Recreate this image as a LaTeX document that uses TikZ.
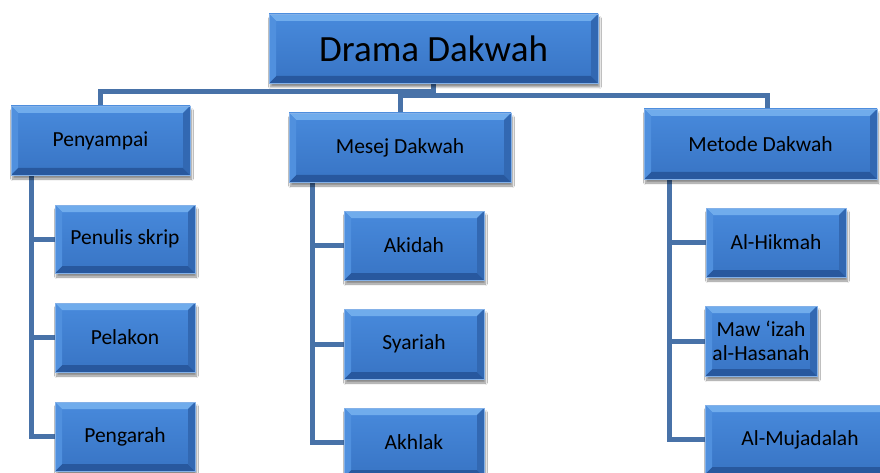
\documentclass[tikz,border=0pt]{standalone}
\usepackage{fontspec}
\setmainfont{Carlito}
\usetikzlibrary{shadows.blur,backgrounds}
\definecolor{faceT}{RGB}{72,138,220}
\definecolor{faceB}{RGB}{56,116,196}
\definecolor{bevT}{RGB}{112,172,236}
\definecolor{bevL}{RGB}{80,144,222}
\definecolor{bevR}{RGB}{50,104,178}
\definecolor{bevB}{RGB}{40,88,158}
\definecolor{linkc}{RGB}{72,114,168}
\tikzset{
  bev/.style={rectangle, inner sep=0pt, top color=faceT, bottom color=faceB,
    draw=bevL!70!white, line width=0.4pt, text=black, align=center,
    font=\fontsize{21.5}{23}\selectfont,
    blur shadow={shadow xshift=1.5pt, shadow yshift=-4pt, shadow blur steps=6, shadow opacity=45},
    path picture={
      \fill[bevT] (path picture bounding box.north west) -- (path picture bounding box.north east)
        -- ([xshift=-7pt,yshift=-7pt]path picture bounding box.north east)
        -- ([xshift=7pt,yshift=-7pt]path picture bounding box.north west) -- cycle;
      \fill[bevB] (path picture bounding box.south west) -- (path picture bounding box.south east)
        -- ([xshift=-7pt,yshift=7pt]path picture bounding box.south east)
        -- ([xshift=7pt,yshift=7pt]path picture bounding box.south west) -- cycle;
      \fill[bevL] (path picture bounding box.north west) -- (path picture bounding box.south west)
        -- ([xshift=7pt,yshift=7pt]path picture bounding box.south west)
        -- ([xshift=7pt,yshift=-7pt]path picture bounding box.north west) -- cycle;
      \fill[bevR] (path picture bounding box.north east) -- (path picture bounding box.south east)
        -- ([xshift=-7pt,yshift=7pt]path picture bounding box.south east)
        -- ([xshift=-7pt,yshift=-7pt]path picture bounding box.north east) -- cycle;
    }},
  link/.style={draw=linkc, line width=5pt, line cap=butt, line join=miter}
}
\begin{document}
\begin{tikzpicture}[x=1pt,y=-1pt]
\path[use as bounding box, clip] (0,0) rectangle (880,473);
% top
\node[bev, minimum width=329pt, minimum height=69pt, font=\fontsize{37}{40}\selectfont] (top) at (433.5,48.5) {Drama Dakwah};
% level 1
\node[bev, minimum width=179pt, minimum height=69pt] (pen) at (100.5,140.5) {Penyampai};
\node[bev, minimum width=222pt, minimum height=69pt] (mes) at (400,147.5) {Mesej Dakwah};
\node[bev, minimum width=233pt, minimum height=70pt] (met) at (760.5,144) {Metode Dakwah};
% children
\node[bev, minimum width=140pt, minimum height=68pt] (pen1) at (125,239) {Penulis skrip};
\node[bev, minimum width=140pt, minimum height=69pt] (pen2) at (125,337.5) {Pelakon};
\node[bev, minimum width=140pt, minimum height=69pt] (pen3) at (125,436.5) {Pengarah};
\node[bev, minimum width=140pt, minimum height=69pt] (mes1) at (414,245.5) {Akidah};
\node[bev, minimum width=140pt, minimum height=70pt] (mes2) at (414,344) {Syariah};
\node[bev, minimum width=140pt, minimum height=69pt] (mes3) at (414,442.5) {Akhlak};
\node[bev, minimum width=140pt, minimum height=69pt] (met1) at (776,242.5) {Al-Hikmah};
\node[bev, minimum width=112pt, minimum height=70pt, font=\fontsize{21.5}{24}\selectfont] (met2) at (761,341) {Maw ‘izah\\al-Hasanah};
\node[bev, minimum width=190pt, minimum height=69pt] (met3) at (800,439.5) {Al-Mujadalah};
\begin{scope}[on background layer]
\fill[white] (0,0) rectangle (880,473);
\draw[link] (top.south) -- ++(0,8) -| (pen.north);
\draw[link] (top.south) -- ++(0,12.5) -| (mes.north);
\draw[link] (top.south) -- ++(0,12.5) -| ([xshift=6.5pt]met.north);
\draw[link] ([xshift=20.5pt]pen.south west) |- (pen1.west);
\draw[link] ([xshift=20.5pt]pen.south west) |- (pen2.west);
\draw[link] ([xshift=20.5pt]pen.south west) |- (pen3.west);
\draw[link] ([xshift=23.5pt]mes.south west) |- (mes1.west);
\draw[link] ([xshift=23.5pt]mes.south west) |- (mes2.west);
\draw[link] ([xshift=23.5pt]mes.south west) |- (mes3.west);
\draw[link] ([xshift=26pt]met.south west) |- (met1.west);
\draw[link] ([xshift=26pt]met.south west) |- (met2.west);
\draw[link] ([xshift=26pt]met.south west) |- (met3.west);
\end{scope}
\end{tikzpicture}
\end{document}
